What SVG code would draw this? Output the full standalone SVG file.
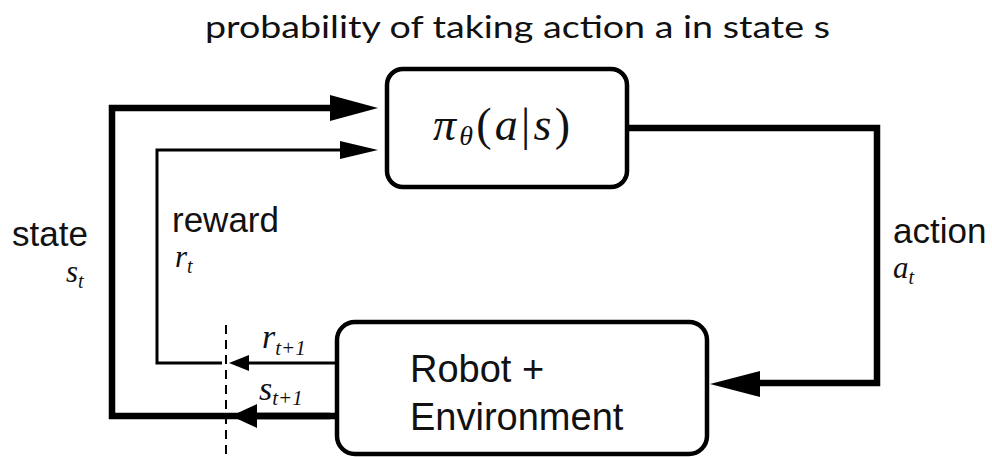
<svg xmlns="http://www.w3.org/2000/svg" width="992" height="457" viewBox="0 0 992 457">
<defs>
<style>
.box{fill:#fff;stroke:#000;stroke-width:4.5}
.thick{fill:none;stroke:#000;stroke-width:6.5;stroke-linejoin:miter}
.thin{fill:none;stroke:#000;stroke-width:3}
.dash{fill:none;stroke:#000;stroke-width:2;stroke-dasharray:9 6}
.head{fill:#000}
.sans{font-family:"Liberation Sans",Arial,sans-serif;fill:#111}
.math{font-family:"Liberation Serif","Times New Roman",serif;font-style:italic;fill:#111}
.title{font-family:Lato,"Open Sans",sans-serif;font-size:31px;fill:#111}
</style>
</defs>
<rect width="992" height="457" fill="#fff"/>
<text class="title" x="205" y="38" textLength="625" lengthAdjust="spacingAndGlyphs">probability of taking action a in state s</text>

<g id="policy">
<rect class="box" x="387" y="69" width="240" height="118" rx="16"/>
<text x="433" y="140" font-family="'Liberation Serif','Times New Roman',serif" font-size="46" fill="#111" textLength="137" lengthAdjust="spacing"><tspan font-style="italic">π</tspan><tspan font-style="italic" font-size="28" dy="5">θ</tspan><tspan dy="-5">(</tspan><tspan font-style="italic">a</tspan>|<tspan font-style="italic">s</tspan>)</text>
</g>

<g id="environment">
<rect class="box" x="337" y="322" width="370" height="132" rx="18"/>
<text class="sans" x="410" y="382" font-size="38">Robot +</text>
<text class="sans" x="410" y="430" font-size="38">Environment</text>
</g>

<g id="connectors">
<!-- action -->
<polyline class="thick" points="627,128 877,128 877,383 755,383"/>
<polygon class="head" points="710,384 760,371 760,397"/>
<!-- state -->
<polyline class="thick" points="330,416 112,416 112,108 335,108"/>
<polygon class="head" points="378,108 330,95 330,121"/>
<polyline class="thick" points="337,416 255,416"/>
<polygon class="head" points="231,416 257,404 257,428"/>
<!-- reward -->
<polyline class="thin" points="222,363 157,363 157,150 345,150"/>
<polygon class="head" points="378,150 340,141 340,159"/>
<polyline class="thin" points="337,363 245,363"/>
<polygon class="head" points="229,363 249,355 249,371"/>
<!-- cut line -->
<line class="dash" x1="226" y1="325" x2="226" y2="457"/>
</g>

<g id="labels">
<text class="sans" x="12" y="246" font-size="35">state</text>
<text class="math" x="66" y="282" font-size="31">s<tspan font-size="20" dy="6">t</tspan></text>
<text class="sans" x="172" y="232" font-size="35">reward</text>
<text class="math" x="175" y="267" font-size="31">r<tspan font-size="20" dy="6">t</tspan></text>
<text class="sans" x="893" y="243" font-size="35">action</text>
<text class="math" x="893" y="278" font-size="31">a<tspan font-size="20" dy="6">t</tspan></text>
<text class="math" x="262" y="348" font-size="34">r<tspan font-size="21" dy="7">t+1</tspan></text>
<text class="math" x="259" y="400" font-size="34">s<tspan font-size="21" dy="5">t+1</tspan></text>
</g>
</svg>
